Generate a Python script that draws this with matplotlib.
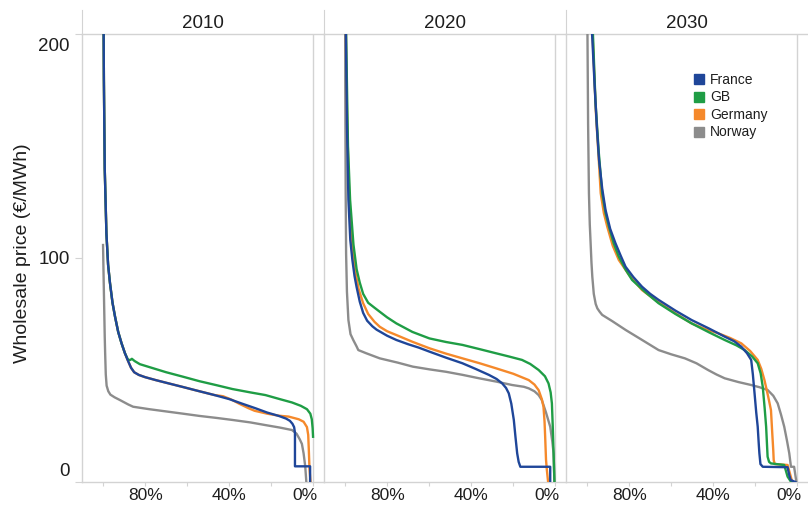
import matplotlib.pyplot as plt
from matplotlib.lines import Line2D
from matplotlib.transforms import ScaledTranslation

plt.rcParams['font.family'] = ['Liberation Sans', 'DejaVu Sans']

years = ['2010', '2020', '2030']
countries = ['France', 'GB', 'Germany', 'Norway']
colours = {'France': '#1f4699', 'GB': '#1f9d45', 'Germany': '#f5892b', 'Norway': '#8c8c8c'}

# price duration curves: share of hours (%) vs wholesale price (EUR/MWh)
fr_2010_pct = [100, 99.6, 99.2, 98.4, 97.6, 96.7, 95.5, 94.3, 92.8, 91.2, 89.6, 88.1, 86.7, 85.2, 83, 80, 75, 70,
               62, 55, 47, 40, 34, 27.5, 22, 16.5, 13, 11.2, 10, 9.2, 8.8, 8.8, 1.6, 1.6]
fr_2010_price = [250, 180, 140, 111, 97, 88.8, 80, 73.8, 67, 61.9, 57.5, 54, 51, 49, 47.8, 46.8, 45.5, 44.3,
                 42.4, 40.7, 38.8, 37, 35, 32.9, 31, 29.5, 28.3, 27.3, 26, 24.5, 22, 7, 7, 0]
gb_2010_pct = [100, 99.6, 99.2, 98.4, 97.6, 96.7, 95.5, 94.3, 92.8, 91.2, 89.6, 88.1, 87, 86.3, 85, 82.5, 78,
               70, 62, 54.2, 46, 38.5, 30, 22.8, 16, 10.2, 6, 3.1, 1.5, 0.8, 0.4, 0.2]
gb_2010_price = [250, 180, 140, 111, 97, 88.8, 80, 73.8, 67, 61.9, 57.5, 54.5, 54.5, 55, 54, 52.6, 51.3,
                 49, 47, 45, 43.2, 41.5, 40, 38.8, 37, 35.5, 34, 32.5, 30.5, 28, 24, 20.2]
de_2010_pct = [100, 99.6, 99.2, 98.4, 97.6, 96.7, 95.5, 94.3, 92.8, 91.2, 89.6, 88.1, 86.7, 85.2, 83, 80, 75,
               70, 62, 55, 47, 43, 39, 35.4, 31, 28, 22, 16.5, 11.8, 7, 4.7, 3.1, 2.5, 2.2, 1.9, 1.4]
de_2010_price = [250, 180, 140, 111, 97, 88.8, 80, 73.8, 67, 61.9, 57.5, 54, 51, 49, 47.8, 46.8, 45.5,
                 44.3, 42.4, 40.7, 38.8, 38.3, 36.8, 35, 33, 31.8, 30.5, 29.6, 29.2, 28, 26.9, 24.5, 21, 14, 6, 0]
no_2010_pct = [100, 99.8, 99.5, 99.2, 99, 98.7, 98.3, 97.5, 96.5, 94.5, 92, 88, 85.7, 78, 70, 62, 54.2, 46,
               38.5, 30, 22.8, 16, 10.2, 8, 6.5, 5.5, 4.7, 3.9, 3.4]
no_2010_price = [105.8, 95, 80, 65, 57.5, 48, 43, 40.5, 39, 37.8, 36.6, 34.6, 33.6, 32.5, 31.5, 30.5, 29.5,
                 28.6, 27.7, 26.6, 25.4, 24.3, 23.2, 21.5, 19, 17, 12.8, 6.8, 0]

fr_2020_pct = [100, 99.6, 99.1, 98.4, 97.5, 96.5, 95.5, 94.5, 93, 91.4, 89.5, 87, 85, 80, 75.6, 70, 65, 59.9,
               52, 44.2, 38, 31.6, 28, 25.3, 23.5, 22.2, 21, 19.8, 19, 18.2, 17.5, 16.7, 2.5, 2.5]
fr_2020_price = [250, 200, 160, 126, 108, 99, 92, 87, 80.5, 75.5, 72, 69.5, 68, 65.3, 63.4, 61.5, 60, 58.2,
                 55.5, 53, 50.5, 47.8, 46, 44, 42, 39.6, 35, 27.7, 20, 12.8, 9, 6.8, 6.8, 0]
gb_2020_pct = [100, 99.5, 98.6, 97.6, 96, 94.5, 93, 91.4, 89, 86, 83.5, 80, 75.6, 68, 59.9, 52, 44.2, 36,
               28.4, 22, 15.9, 12, 8, 5, 3.3, 2.3, 1.7, 1.3, 0.9, 0.5]
gb_2020_price = [250, 200, 150, 126, 106, 95, 89, 84, 80, 77.8, 76, 73.5, 70.8, 67, 64.1, 62.5, 61.2, 59.3,
                 57.5, 56, 54.5, 52.7, 50, 47.2, 44, 40, 35.1, 25, 12.8, 0]
de_2020_pct = [100, 99.5, 99, 97.8, 96.5, 95.3, 93.5, 91.4, 89, 86, 83.5, 80, 75.6, 68, 59.9, 52, 44.2, 36,
               28.4, 20, 12.7, 10, 8, 6.5, 5.7, 5.2, 4.9, 4.5, 4.1, 3.5]
de_2020_price = [250, 190, 160, 120, 104, 94.6, 86, 79.8, 75, 71.5, 69.3, 67.3, 65.6, 62.6, 59.7, 57.3, 55.2,
                 53, 50.8, 48.3, 45.5, 43.5, 41, 37, 33.6, 27, 20.2, 10, 5.4, 0]
no_2020_pct = [100, 99.9, 99.7, 99.5, 99.1, 98.4, 97.4, 96.1, 94.5, 93.7, 90, 83.5, 75, 67.8, 60, 52, 44, 36.3,
               28, 20.6, 15, 12.7, 10, 8, 6.5, 4.5, 2.5, 1.5, 0.9, 0.5]
no_2020_price = [250, 180, 130, 102, 85, 72.3, 66, 63.4, 60.5, 58.9, 57.5, 55.2, 53.3, 51.5, 50.3, 49.2, 47.8,
                 46.3, 44.8, 43.3, 42.5, 41.8, 40.5, 38.8, 36.6, 31, 24.7, 18, 12.8, 0]

fr_2030_pct = [98.6, 97.6, 96.4, 95.3, 94.3, 92.8, 91.2, 89, 86.5, 84, 81.7, 78, 73.9, 70, 66, 58, 50.3, 42,
               34.6, 30, 26.7, 24, 22, 21.2, 20.4, 19.6, 18.9, 18.4, 18.1, 17.6, 16.5, 4.7, 3.9, 3.2, 1]
fr_2030_price = [220, 200, 177, 158, 143.8, 131, 121.4, 113, 106.6, 101, 96.1, 91.5, 87.2, 84, 81.3, 76.5,
                 72.3, 68.5, 64.9, 62.8, 60.4, 57.5, 54.5, 48, 39.6, 31, 24.7, 17, 12.8, 8, 6.8, 6.6, 3, 0.9, 0]
gb_2030_pct = [98.4, 97.2, 96, 94.5, 92.8, 91.2, 89.6, 87.3, 84.9, 81.8, 78.6, 72, 66, 58, 50.3, 42, 34.6, 29,
               25.1, 21.5, 18.9, 17.5, 16.5, 15.6, 14.9, 14.5, 14.2, 13.5, 12.6, 6.3, 5.5, 4.7, 3]
gb_2030_price = [220, 200, 170, 148, 128.9, 120, 114, 106.5, 100.6, 95, 90.2, 84.5, 79.8, 75, 70.8, 66.8,
                 63.4, 61, 58.9, 56, 53, 48.5, 42.5, 33, 24.7, 17, 11.3, 9, 8.3, 7.6, 5, 2.4, 0]
de_2030_pct = [98.5, 97.4, 95.8, 94.5, 93.5, 92, 90.4, 87.8, 84.9, 80, 73.9, 66, 58, 50.3, 44, 37.7, 32, 26.7,
               22.5, 18.9, 17.2, 15.7, 14, 12.6, 12, 11.5, 11.3, 10.8, 4.7, 3.5, 2.5]
de_2030_price = [220, 200, 165, 145, 128.9, 120, 114, 105.5, 99.1, 92.4, 85.7, 80.2, 75.3, 70.8, 68.3, 66.4,
                 64.3, 61.9, 58.5, 54.5, 50.5, 45.5, 38.5, 32.1, 22, 14, 9.8, 8, 7.6, 3.5, 0]
no_2030_pct = [100, 99.8, 99.5, 99.1, 98.7, 98.3, 97.9, 97.5, 96.8, 95.9, 95.1, 94, 92.8, 88, 81.7, 74, 66, 60,
               53.5, 48, 42.5, 38.5, 34.6, 28, 22, 18, 14.2, 11.5, 9.4, 7.8, 6.3, 5, 3.9, 3.1, 1.6, 1.0, 0.5]
no_2030_price = [250, 200, 160, 128.9, 115, 106.6, 98, 91.7, 84, 79.5, 77.5, 76, 74.6, 71.8, 67.9, 63.5, 58.9,
                 57, 55.2, 53, 50, 48, 46.3, 44.6, 43.3, 42.3, 41.1, 38.5, 35.1, 30, 24.7, 18.5, 12.8, 6.8, 6.8,
                 3, 0]

curves = {
    '2010': {'France': (fr_2010_pct, fr_2010_price), 'GB': (gb_2010_pct, gb_2010_price),
             'Germany': (de_2010_pct, de_2010_price), 'Norway': (no_2010_pct, no_2010_price)},
    '2020': {'France': (fr_2020_pct, fr_2020_price), 'GB': (gb_2020_pct, gb_2020_price),
             'Germany': (de_2020_pct, de_2020_price), 'Norway': (no_2020_pct, no_2020_price)},
    '2030': {'France': (fr_2030_pct, fr_2030_price), 'GB': (gb_2030_pct, gb_2030_price),
             'Germany': (de_2030_pct, de_2030_price), 'Norway': (no_2030_pct, no_2030_price)},
}

x_ticks = [100, 80, 60, 40, 20, 0]
x_labels = ['', '80%', '', '40%', '', '0%']
y_ticks = [0, 100, 200]

W, H = 808, 507
grey = '#d3d3d3'
txt = '#1e1e1e'
fig = plt.figure(figsize=(W / 100, H / 100), dpi=100)

left, top, bottom, pw = 82, 34, 482, 242
for i, year in enumerate(years):
    x0 = left + i * pw
    ax = fig.add_axes([x0 / W, (H - bottom) / H, pw / W, (bottom - top) / H])

    # header strip with the year
    hdr = fig.add_axes([x0 / W, (H - top) / H, pw / W, 24 / H])
    hdr.set_xticks([])
    hdr.set_yticks([])
    for s in ['top', 'right', 'bottom']:
        hdr.spines[s].set_visible(False)
    hdr.spines['left'].set_color(grey)
    hdr.patch.set_alpha(0)
    hdr.text(0.5, 0.42, year, ha='center', va='center', fontsize=13.5, color=txt)

    ax.axvline(0, color=grey, lw=1, zorder=1)
    for c in ['Norway', 'Germany', 'GB', 'France']:
        px, py = curves[year][c]
        ax.plot(px, py, color=colours[c], lw=1.7, zorder=3, solid_joinstyle='round')

    ax.set_xlim(110, -5)
    ax.set_ylim(0, 200)
    for s in ax.spines.values():
        s.set_color(grey)
        s.set_linewidth(1)
    ax.spines['right'].set_visible(False)
    ax.set_xticks(x_ticks)
    ax.set_xticklabels(x_labels)
    ax.tick_params(axis='x', length=3, color=grey, labelsize=12.5, labelcolor=txt, pad=1)
    ax.set_yticks(y_ticks)
    if i == 0:
        ax.set_yticklabels([str(v) for v in y_ticks])
        ax.tick_params(axis='y', length=5, color=grey, labelsize=13.5, labelcolor=txt, pad=4)
        ylabs = ax.get_yticklabels()
        ylabs[0].set_transform(ylabs[0].get_transform() + ScaledTranslation(0, 0.12, fig.dpi_scale_trans))
        ylabs[2].set_transform(ylabs[2].get_transform() + ScaledTranslation(0, -0.11, fig.dpi_scale_trans))
    else:
        ax.tick_params(axis='y', length=0, labelleft=False)
    xlabs = ax.get_xticklabels()
    xlabs[-1].set_transform(xlabs[-1].get_transform() + ScaledTranslation(-0.09, 0, fig.dpi_scale_trans))

fig.text(23 / W, 1 - 253 / H, 'Wholesale price (€/MWh)', rotation=90, ha='center', va='center',
         fontsize=14, color=txt)

handles = [Line2D([], [], marker='s', linestyle='none', markersize=7, color=colours[c]) for c in countries]
fig.legend(handles, countries, loc='upper left', bbox_to_anchor=(693 / W, 1 - 73 / H),
           frameon=False, fontsize=10, handlelength=0.8, handletextpad=0.45,
           labelspacing=0.25, borderpad=0, borderaxespad=0, labelcolor=txt)

fig.savefig('out.png', dpi=100)
